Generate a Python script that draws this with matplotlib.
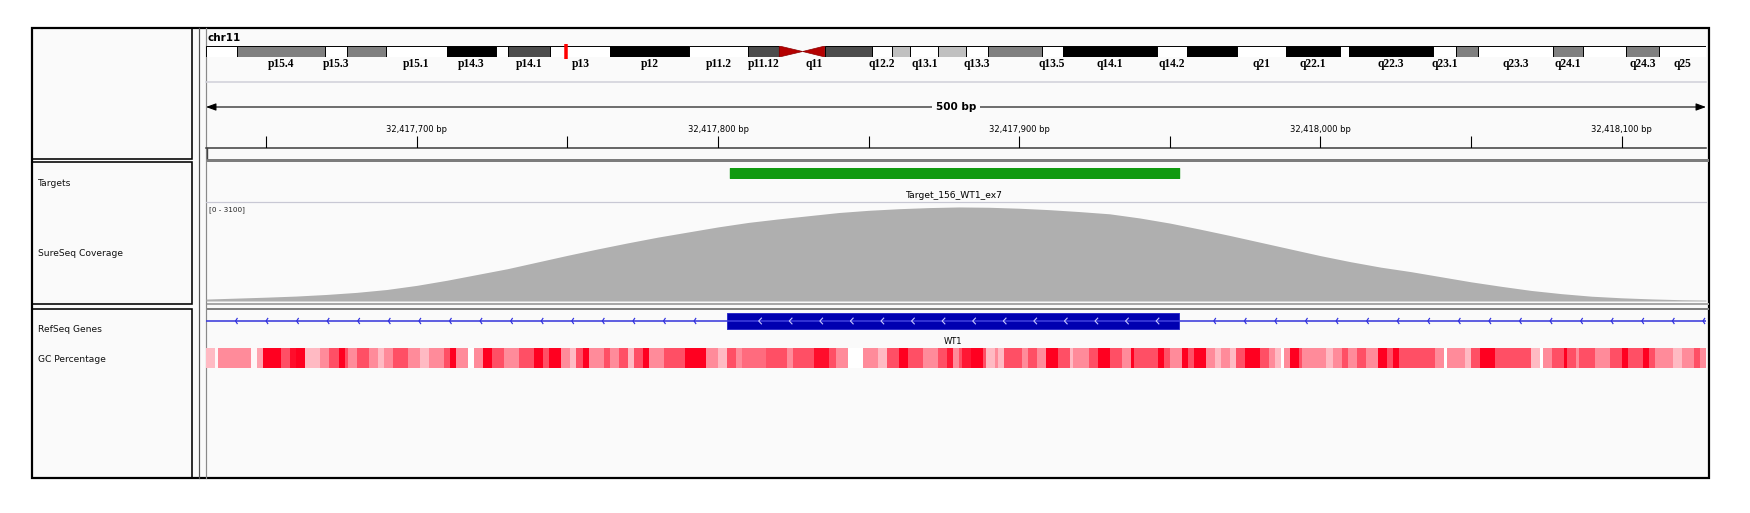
import numpy as np
import matplotlib
matplotlib.use('Agg')
import matplotlib.pyplot as plt
from matplotlib.patches import Rectangle, Polygon
from matplotlib.colors import LinearSegmentedColormap, Normalize

# ----------------------------------------------------------------- data
chrom = 'chr11'
chrom_len = 135.006516  # Mb
band_names = ['p15.5', 'p15.4', 'p15.3', 'p15.2', 'p15.1', 'p14.3', 'p14.2', 'p14.1',
              'p13', 'p12', 'p11.2', 'p11.12', 'p11.11', 'q11', 'q12.1', 'q12.2',
              'q12.3', 'q13.1', 'q13.2', 'q13.3', 'q13.4', 'q13.5', 'q14.1', 'q14.2',
              'q14.3', 'q21', 'q22.1', 'q22.2', 'q22.3', 'q23.1', 'q23.2', 'q23.3',
              'q24.1', 'q24.2', 'q24.3', 'q25']
band_starts = [0, 2.8, 10.7, 12.7, 16.2, 21.7, 26.1, 27.2, 31.0, 36.4, 43.5, 48.8,
               51.6, 53.7, 55.7, 59.9, 61.7, 63.4, 65.9, 68.4, 70.4, 75.2, 77.1, 85.6,
               88.3, 92.8, 97.2, 102.1, 102.9, 110.4, 112.5, 114.5, 121.2, 123.9,
               127.8, 130.8]
band_stains = ['gneg', 'gpos50', 'gneg', 'gpos50', 'gneg', 'gpos100', 'gneg', 'gpos75',
               'gneg', 'gpos100', 'gneg', 'gpos75', 'acen', 'acen', 'gpos75', 'gneg',
               'gpos25', 'gneg', 'gpos25', 'gneg', 'gpos50', 'gneg', 'gpos100', 'gneg',
               'gpos100', 'gneg', 'gpos100', 'gneg', 'gpos100', 'gneg', 'gpos50', 'gneg',
               'gpos50', 'gneg', 'gpos50', 'gneg']
shown_labels = ['p15.4', 'p15.3', 'p15.1', 'p14.3', 'p14.1', 'p13', 'p12', 'p11.2',
                'p11.12', 'q11', 'q12.2', 'q13.1', 'q13.3', 'q13.5', 'q14.1', 'q14.2',
                'q21', 'q22.1', 'q22.3', 'q23.1', 'q23.3', 'q24.1', 'q24.3', 'q25']

view_start, view_end = 32417630, 32418128
ruler_ticks = [32417650, 32417700, 32417750, 32417800, 32417850, 32417900,
               32417950, 32418000, 32418050, 32418100]
ruler_labels = [32417700, 32417800, 32417900, 32418000, 32418100]

target_name = 'Target_156_WT1_ex7'
target_start, target_end = 32417804, 32417953
gene_name = 'WT1'
exon_start, exon_end = 32417803, 32417953

cov_max = 3100
cov_offsets = [0, 10, 20, 30, 40, 50, 60, 70, 80, 90, 100, 110, 120, 130, 140, 150,
               160, 170, 180, 190, 200, 210, 220, 230, 240, 250, 260, 270, 280, 290,
               300, 310, 320, 330, 340, 350, 360, 370, 380, 390, 400, 410, 420, 430,
               440, 450, 460, 470, 480, 490, 498]
cov_depth = [60, 90, 120, 155, 205, 270, 360, 490, 650, 830, 1010, 1220, 1430, 1630,
             1820, 2000, 2160, 2320, 2460, 2570, 2670, 2770, 2840, 2890, 2925, 2945,
             2935, 2905, 2860, 2800, 2730, 2600, 2440, 2250, 2050, 1840, 1630, 1420,
             1230, 1060, 920, 760, 600, 460, 330, 230, 150, 100, 65, 40, 30]

# GC percentage cells: (start offset in bp, GC %)
gc_cells = [(0, 45), (3, 32), (4, 55), (15, 32), (17, 50), (19, 85), (25, 68), (28, 82),
            (30, 85), (33, 45), (38, 55), (41, 68), (44, 85), (46, 68), (47, 55), (50, 68),
            (54, 55), (57, 45), (59, 55), (62, 68), (67, 55), (71, 45), (74, 55), (79, 68),
            (81, 85), (83, 55), (87, 30), (89, 55), (92, 85), (95, 68), (99, 55), (104, 68),
            (109, 85), (112, 68), (114, 85), (118, 55), (121, 45), (123, 68), (125, 85),
            (127, 55), (132, 68), (134, 55), (137, 68), (140, 45), (142, 68), (145, 85),
            (147, 55), (152, 68), (159, 85), (166, 55), (170, 45), (173, 68), (176, 55),
            (178, 62), (186, 68), (193, 55), (195, 68), (202, 82), (207, 68), (209, 55),
            (213, 28), (218, 55), (223, 45), (226, 68), (230, 85), (233, 68), (238, 55),
            (243, 68), (246, 80), (248, 55), (250, 68), (251, 80), (254, 85), (258, 68),
            (259, 45), (262, 55), (263, 45), (265, 68), (271, 55), (273, 68), (276, 55),
            (279, 85), (283, 68), (287, 45), (288, 55), (293, 68), (296, 85), (300, 68),
            (304, 55), (307, 85), (308, 68), (316, 85), (318, 68), (320, 55), (324, 85),
            (326, 68), (328, 85), (332, 55), (335, 45), (337, 55), (340, 45), (342, 68),
            (345, 85), (350, 68), (353, 55), (355, 45), (357, 25), (358, 55), (360, 85),
            (363, 68), (364, 55), (372, 45), (374, 55), (377, 68), (379, 55), (382, 68),
            (385, 55), (389, 85), (392, 68), (394, 85), (396, 68), (408, 55), (411, 25),
            (412, 55), (418, 45), (420, 68), (423, 85), (428, 68), (440, 45), (443, 25),
            (444, 55), (447, 68), (451, 85), (452, 68), (455, 55), (456, 68), (461, 55),
            (466, 68), (470, 85), (472, 68), (477, 85), (479, 68), (481, 55), (487, 45),
            (490, 55), (494, 68), (496, 55)]

track_names = ['Targets', 'SureSeq Coverage', 'RefSeq Genes', 'GC Percentage']

# ----------------------------------------------------------------- layout
W, H = 1750, 513
DX0, DX1 = 206, 1706
PANEL = '#fafafa'
STAIN_COLORS = {'gneg': 'white', 'gpos25': '#c0c0c0', 'gpos50': '#808080',
                'gpos75': '#4c4c4c', 'gpos100': 'black'}

fig = plt.figure(figsize=(W / 100, H / 100), dpi=100)
fig.patch.set_facecolor('white')


def px_axes(x0, y0, x1, y1):
    ax = fig.add_axes([x0 / W, 1 - y1 / H, (x1 - x0) / W, (y1 - y0) / H])
    ax.axis('off')
    return ax


def pt(px):
    return px * 0.72


# background frame, panels and separators (pixel coordinates)
bg = fig.add_axes([0, 0, 1, 1])
bg.set_xlim(0, W)
bg.set_ylim(H, 0)
bg.axis('off')
bg.add_patch(Rectangle((32, 28), 1677, 450, facecolor=PANEL, edgecolor='black', lw=pt(2.2)))
for y0, y1 in [(28, 159), (162, 304), (309, 478)]:
    bg.add_patch(Rectangle((32, y0), 160, y1 - y0, facecolor='none',
                           edgecolor='black', lw=pt(1.6)))
bg.plot([199, 199], [28, 478], color='#555555', lw=pt(1.2))
bg.plot([205.5, 205.5], [28, 478], color='#8a8a8a', lw=pt(1.2))
bg.plot([DX0, DX1], [82, 82], color='#d2d2da', lw=pt(1.6))
bg.plot([DX0, DX1], [148, 148], color='#444444', lw=pt(1.6))
bg.plot([DX0 + 0.5, DX0 + 0.5], [148, 158], color='#444444', lw=pt(1.4))
bg.add_patch(Rectangle((DX0, 159), DX1 - DX0 + 3, 3, facecolor='#7c7c7c', edgecolor='none'))
bg.plot([DX0, DX1], [202, 202], color='#c8c8d4', lw=pt(1.2))
bg.add_patch(Rectangle((DX0, 302.5), DX1 - DX0 + 3, 2, facecolor='#a8a8a8', edgecolor='none'))
bg.add_patch(Rectangle((DX0, 307.5), DX1 - DX0 + 3, 2.5, facecolor='#808080', edgecolor='none'))

bg.text(207, 38, chrom, fontsize=7.5, fontweight='bold', ha='left', va='center')
for name, y in zip(track_names, [183, 254, 330, 359]):
    bg.text(38, y, name, fontsize=6.6, ha='left', va='center', color='#111111')
bg.text(209, 210, f'[0 - {cov_max}]', fontsize=5.2, ha='left', va='center', color='#222222')

# ----------------------------------------------------------------- ideogram
ideo = px_axes(DX0, 46, DX1, 57)
ideo.set_xlim(0, chrom_len)
ideo.set_ylim(0, 1)
band_ends = band_starts[1:] + [chrom_len]
for name, s, e, stain in zip(band_names, band_starts, band_ends, band_stains):
    if stain == 'acen':
        if name.startswith('p'):
            tri = [(s, 0), (s, 1), (e, 0.5)]
        else:
            tri = [(e, 0), (e, 1), (s, 0.5)]
        ideo.add_patch(Polygon(tri, closed=True, facecolor='#b40000', edgecolor='#8c0000', lw=0.5))
    else:
        ideo.bar(s, 1, width=e - s, bottom=0, align='edge', color=STAIN_COLORS[stain],
                 edgecolor='black', lw=0.7)
    if name in shown_labels:
        ideo.text((s + e) / 2, -0.1, name, ha='center', va='top', fontsize=8.3,
                  fontweight='bold', family='Liberation Serif', clip_on=False)
view_mb = (view_start + view_end) / 2 / 1e6
ideo.plot([view_mb, view_mb], [-0.2, 1.2], color='#ff0000', lw=pt(3.5),
          solid_capstyle='butt', clip_on=False)

# ----------------------------------------------------------------- ruler
ruler = px_axes(DX0, 95, DX1, 148)
ruler.set_xlim(view_start, view_end)
ruler.set_ylim(0, 53)
ruler.vlines(ruler_ticks, 0, 12, color='black', lw=pt(1.1))
for p in ruler_labels:
    ruler.text(p, 19, f'{p:,} bp', ha='center', va='center', fontsize=6)
ruler.annotate('', xy=(view_start, 41), xytext=(view_end, 41),
               arrowprops=dict(arrowstyle='<|-|>,head_length=0.6,head_width=0.22',
                               color='black', lw=pt(1.1), shrinkA=0, shrinkB=0,
                               mutation_scale=10))
ruler.text((view_start + view_end) / 2, 41, f'{round(view_end - view_start, -2):.0f} bp',
           ha='center', va='center', fontsize=7.5, fontweight='bold',
           bbox=dict(facecolor=PANEL, edgecolor='none', pad=2.5))

# ----------------------------------------------------------------- targets
tgt = px_axes(DX0, 168, DX1, 178)
tgt.set_xlim(view_start, view_end)
tgt.set_ylim(0, 1)
tgt.broken_barh([(target_start, target_end - target_start)], (0, 1), color='#109a10')
tgt.text((target_start + target_end) / 2, -1.8, target_name, ha='center', va='center',
         fontsize=6.6, clip_on=False)

# ----------------------------------------------------------------- coverage
cov = px_axes(DX0, 202, DX1, 301)
cov.set_xlim(view_start, view_end)
cov.set_ylim(0, cov_max)
cov_x = np.array(cov_offsets) + view_start
cov.fill_between(cov_x, 0, cov_depth, color='#afafaf', lw=0)

# ----------------------------------------------------------------- gene
gene = px_axes(DX0, 313, DX1, 329)
gene.set_xlim(view_start, view_end)
gene.set_ylim(0, 1)
gene.hlines(0.5, view_start, view_end, color='#3c3cdc', lw=pt(1.6))
gene.broken_barh([(exon_start, exon_end - exon_start)], (0, 1),
                 facecolor='#0000b0', edgecolor='#2020c8', lw=0.6)
# strand chevrons (minus strand)
for p in np.arange(view_start + 9.8, view_end, 10.15):
    if exon_start - 2 < p < exon_end + 2:
        continue
    gene.plot([p + 0.55, p, p + 0.55], [0.66, 0.5, 0.34], color='#3030e0', lw=pt(1.2))
for p in np.arange(exon_start + 10.5, exon_end - 4, 10.15):
    gene.plot([p + 0.9, p, p + 0.9], [0.68, 0.5, 0.32], color='#c8c8ff', lw=pt(1.1))
gene.text((exon_start + exon_end) / 2, -0.75, gene_name, ha='center', va='center',
          fontsize=6, clip_on=False)

# ----------------------------------------------------------------- GC percentage
gc = px_axes(DX0, 348, DX1, 368)
gc.set_xlim(view_start, view_end)
gc.set_ylim(0, 1)
gc_starts = [c[0] for c in gc_cells]
gc_values = [c[1] for c in gc_cells]
gc_edges = np.array(gc_starts + [view_end - view_start]) + view_start
gc_cmap = LinearSegmentedColormap.from_list('gc', ['#ffffff', '#ff0020'])
gc.pcolormesh(gc_edges, [0, 1], np.array(gc_values)[None, :], cmap=gc_cmap,
              norm=Normalize(vmin=30, vmax=85, clip=True), shading='flat')

fig.savefig('out.png', dpi=100, facecolor='white')
